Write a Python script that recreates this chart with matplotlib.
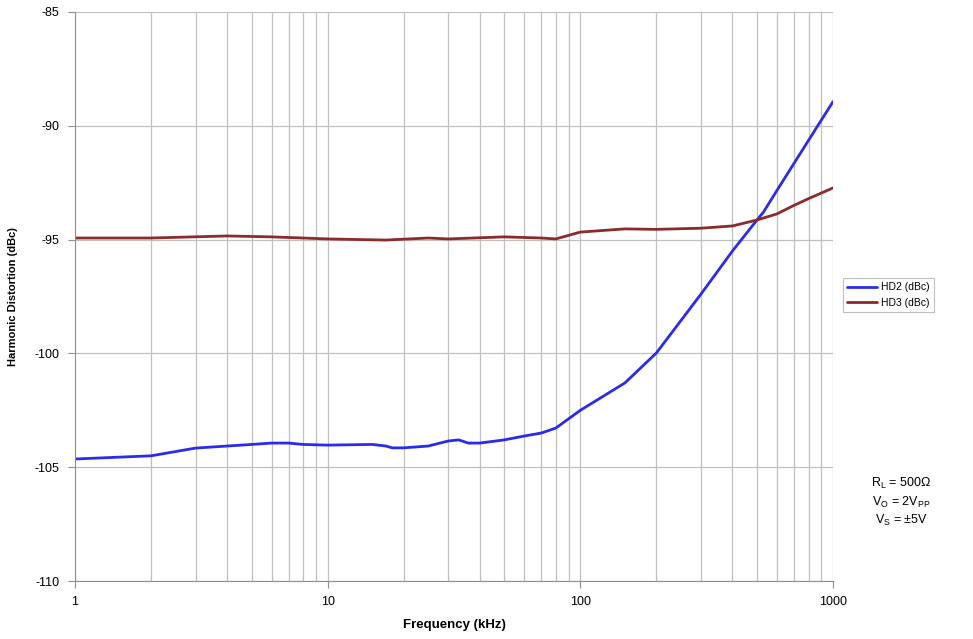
import numpy as np
import matplotlib
matplotlib.use('Agg')
from matplotlib import pyplot as plt

plt.rcParams['font.family'] = ['Liberation Sans', 'DejaVu Sans']
plt.rcParams['axes.unicode_minus'] = False

# frequency (kHz) and distortion (dBc)
freq_hd2 = [1, 2, 3, 4, 5, 6, 7, 8, 10, 15, 17, 18, 20, 25, 30, 33, 36, 40, 50, 60, 70, 80,
            100, 150, 200, 300, 400, 500, 530, 600, 700, 800, 900, 1000]
hd2 = [-104.64, -104.5, -104.16, -104.07, -104.0, -103.94, -103.94, -104.0, -104.03, -104.0,
       -104.07, -104.15, -104.15, -104.07, -103.85, -103.8, -103.94, -103.94, -103.8, -103.63,
       -103.5, -103.28, -102.5, -101.3, -99.98, -97.4, -95.5, -94.14, -93.8, -92.84, -91.66,
       -90.64, -89.74, -88.94]

freq_hd3 = [1, 2, 4, 6, 10, 17, 25, 30, 50, 70, 80, 100, 150, 200, 300, 400, 500, 600, 700,
            800, 1000]
hd3 = [-94.93, -94.93, -94.84, -94.88, -94.97, -95.02, -94.93, -94.97, -94.88, -94.93, -94.97,
       -94.67, -94.53, -94.55, -94.5, -94.4, -94.14, -93.87, -93.5, -93.2, -92.73]

fig = plt.figure(figsize=(9.73, 6.39), dpi=100)
ax = fig.add_axes([75/973, 1-581/639, 758/973, 569/639])

ax.plot(freq_hd2, hd2, color='#2b2bf0', lw=2.0, label='HD2 (dBc)', solid_capstyle='round')
ax.plot(freq_hd3, hd3, color='#8a2c2c', lw=2.0, label='HD3 (dBc)', solid_capstyle='round')

ax.set_xscale('log')
ax.set_xlim(1, 1000)
ax.set_ylim(-110, -85)
ax.set_yticks([-110, -105, -100, -95, -90, -85])
ax.set_xticks([1, 10, 100, 1000])
ax.set_xticklabels(['1', '10', '100', '1000'])
ax.xaxis.set_minor_locator(matplotlib.ticker.LogLocator(base=10, subs=np.arange(2, 10)))
ax.xaxis.set_minor_formatter(matplotlib.ticker.NullFormatter())

ax.grid(True, which='both', axis='x', color='#c0c0c0', lw=0.9)
ax.grid(True, which='major', axis='y', color='#c0c0c0', lw=0.9)
ax.set_axisbelow(True)

for s in ['top', 'right']:
    ax.spines[s].set_visible(False)
ax.spines['left'].set_color('#909090')
ax.spines['bottom'].set_color('#909090')
ax.tick_params(axis='both', which='major', direction='out', length=5, color='#909090',
               labelsize=9, pad=6)
ax.tick_params(axis='x', which='minor', length=0)

ax.set_xlabel('Frequency (kHz)', fontsize=9.5, fontweight='bold', labelpad=8)
ax.set_ylabel('Harmonic Distortion (dBc)', fontsize=8, fontweight='bold', labelpad=12)

leg = fig.legend(loc='center left', bbox_to_anchor=(838/973, 1-295/639), fontsize=7.5,
                 frameon=True, fancybox=False, handlelength=2.8, borderpad=0.4,
                 labelspacing=0.5, handletextpad=0.4)
leg.get_frame().set_edgecolor('#b0b0b0')
leg.get_frame().set_linewidth(0.8)

fig.text(901/973, 1-502/639, '$\\mathregular{R_L}$ = 500Ω\n$\\mathregular{V_O}$ = 2$\\mathregular{V_{PP}}$\n$\\mathregular{V_S}$ = ±5V',
         ha='center', va='center', fontsize=9, linespacing=1.3)

fig.savefig('out.png', dpi=100)
